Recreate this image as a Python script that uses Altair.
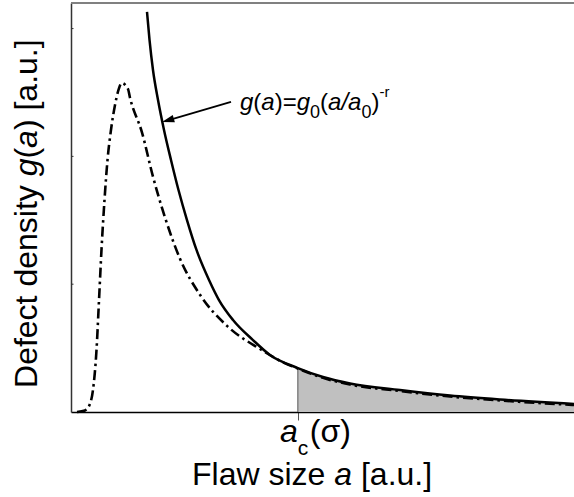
import math
import altair as alt
import pandas as pd

# ---------------- data (arbitrary units) ----------------
# power-law curve g(a) = g0 (a/a0)^-r  (solid)
solid_x = [1.511, 1.561, 1.630, 1.730, 1.849, 1.988, 2.137, 2.306, 2.495, 2.744,
           2.942, 3.221, 3.618, 3.956, 4.51, 5.010, 5.547, 6.541, 7.535, 8.529, 10.0]
solid_y = [3.130, 2.911, 2.676, 2.441, 2.207, 1.972, 1.737, 1.502, 1.268, 1.033,
           0.876, 0.720, 0.563, 0.446, 0.344, 0.274, 0.223, 0.172, 0.129, 0.098, 0.063]

# measured defect density (dash-dot)
dd_x = [0.119, 0.278, 0.368, 0.437, 0.507, 0.557, 0.606, 0.666, 0.726, 0.795,
        0.875, 0.944, 1.008, 1.133, 1.173, 1.412, 1.630, 1.869, 2.167, 2.565,
        3.101, 3.757, 4.215, 4.553, 5.010, 5.547, 6.541, 7.535, 8.529, 10.0]
dd_y = [0.000, 0.012, 0.055, 0.172, 0.485, 0.876, 1.268, 1.659, 1.972, 2.207,
        2.402, 2.520, 2.574, 2.527, 2.459, 2.186, 1.841, 1.522, 1.199, 0.917,
        0.674, 0.493, 0.389, 0.333, 0.267, 0.215, 0.164, 0.121, 0.090, 0.055]

AC = 4.51          # critical flaw size a_c(sigma)
G_AC = 0.344       # g(a_c)
Y_TICKS = [1, 2, 3]

# ---------------- layout constants ----------------
W, H = 503, 409
X_DOM = [0, 10]
Y_DOM = [0, 3.2]
PXX = W / (X_DOM[1] - X_DOM[0])
PXY = H / (Y_DOM[1] - Y_DOM[0])
FONT = "Liberation Sans"

ADV = {"F": 611, "l": 222, "a": 556, "w": 722, " ": 278, "s": 500, "i": 222,
       "z": 500, "e": 556, "[": 278, ".": 278, "u": 556, "]": 278, "D": 722,
       "f": 278, "c": 500, "t": 278, "n": 556, "d": 556, "y": 500, "g": 556,
       "(": 333, ")": 333, "=": 584, "/": 278, "0": 556, "-": 333, "r": 333,
       "σ": 617}


def adv(s, size):
    return sum(ADV[c] for c in s) * size / 1000.0


xs = alt.Scale(domain=X_DOM, nice=False, zero=False)
ys = alt.Scale(domain=Y_DOM, nice=False, zero=False)
xaxis = alt.Axis(values=[AC], labels=False, title=None, grid=False, tickSize=8,
                 tickColor="#555555", tickWidth=1, domainColor="#000000",
                 domainWidth=1.5)
yaxis = alt.Axis(values=[0], ticks=False, labels=False, title=None, grid=False,
                 domainColor="#333333", domainWidth=1.5)


def X(f="x"):
    return alt.X(f + ":Q", scale=xs, axis=xaxis)


def Y(f="y"):
    return alt.Y(f + ":Q", scale=ys, axis=yaxis)


solid_df = pd.DataFrame({"x": solid_x, "y": solid_y})
dd_df = pd.DataFrame({"x": dd_x, "y": dd_y})
fill_df = solid_df[solid_df["x"] >= AC]

layers = []

# shaded tail beyond a_c
layers.append(alt.Chart(fill_df).mark_area(color="#c0c0c0", opacity=1,
                                           interpolate="monotone")
              .encode(x=X(), y=Y()))

# vertical marker at a_c
layers.append(alt.Chart(pd.DataFrame({"x": [AC], "y": [0], "y2": [G_AC]}))
              .mark_rule(color="#555555", strokeWidth=1)
              .encode(x=X(), y=Y(), y2="y2:Q"))

# top frame line
layers.append(alt.Chart(pd.DataFrame({"x": [X_DOM[0]], "x2": [X_DOM[1]], "y": [Y_DOM[1]]}))
              .mark_rule(color="#808080", strokeWidth=2)
              .encode(x=X(), x2="x2:Q", y=Y()))

# inward y ticks
TICK_LEN = 2.5 / PXX
layers.append(alt.Chart(pd.DataFrame({"x": [0.0] * len(Y_TICKS),
                                      "x2": [TICK_LEN] * len(Y_TICKS),
                                      "y": Y_TICKS}))
              .mark_rule(color="#333333", strokeWidth=1)
              .encode(x=X(), x2="x2:Q", y=Y()))

# solid power-law curve
layers.append(alt.Chart(solid_df).mark_line(color="black", strokeWidth=2.5,
                                            interpolate="monotone")
              .encode(x=X(), y=Y()))

# dash-dot measured curve
layers.append(alt.Chart(dd_df).mark_line(color="black", strokeWidth=2.6,
                                         strokeDash=[10, 4, 2.5, 4],
                                         interpolate="monotone")
              .encode(x=X(), y=Y()))

# arrow
TAIL = (3.181, 2.426)
TIP = (1.810, 2.269)
dxp = (TIP[0] - TAIL[0]) * PXX
dyp = -(TIP[1] - TAIL[1]) * PXY
nrm = math.hypot(dxp, dyp)
ux, uy = dxp / nrm, dyp / nrm
HEAD_SIZE = 150
half = math.sqrt(HEAD_SIZE) / 2
head_x = TIP[0] - half * ux / PXX
head_y = TIP[1] + half * uy / PXY
head_angle = math.degrees(math.atan2(ux, -uy)) % 360

layers.append(alt.Chart(pd.DataFrame({"x": [TAIL[0]], "y": [TAIL[1]],
                                      "x2": [head_x], "y2": [head_y]}))
              .mark_rule(color="black", strokeWidth=1.8)
              .encode(x=X(), y=Y(), x2="x2:Q", y2="y2:Q"))
layers.append(alt.Chart(pd.DataFrame({"x": [head_x], "y": [head_y]}))
              .mark_point(shape="M0,-1L0.62,1L-0.62,1Z", filled=True,
                          size=HEAD_SIZE, angle=head_angle, color="black",
                          opacity=1, strokeWidth=0)
              .encode(x=X(), y=Y()))


# ---------------- texts ----------------
def text_run(x0, y0, pieces, start=0.0, angle=None):
    out = []
    off = start
    for txt, size, style, shift in pieces:
        lead = len(txt) - len(txt.lstrip(" "))
        shown = txt.strip(" ")
        kw = dict(font=FONT, fontSize=size, fontStyle=style, align="left",
                  baseline="alphabetic", dx=off + adv(" " * lead, size), dy=shift,
                  color="black")
        if angle is not None:
            kw["angle"] = angle
        out.append(alt.Chart(pd.DataFrame({"x": [x0], "y": [y0], "t": [shown]}))
                   .mark_text(**kw).encode(x=X(), y=Y(), text="t:N"))
        off += adv(txt, size)
    return out


# formula annotation
FORM_POS = (3.360, 2.363)
layers += text_run(*FORM_POS, [
    ("g", 24, "italic", 0), ("(", 24, "normal", 0), ("a", 24, "italic", 0),
    (")=", 24, "normal", 0), ("g", 24, "italic", 0), ("0", 18, "normal", 8),
    ("(", 24, "normal", 0), ("a/a", 24, "italic", 0), ("0", 18, "normal", 8),
    (")", 24, "normal", 0), ("-r", 15, "normal", -13)])

# a_c(sigma) tick label
AC_LABEL_Y = -0.235
layers += text_run(AC, AC_LABEL_Y, [("a", 32, "italic", 0), ("c", 21, "normal", 13)],
                   start=-adv("a", 32))
layers += text_run(AC, AC_LABEL_Y, [("(σ)", 32, "normal", 0)],
                   start=adv("c", 21) + 1.5)

# x title
XT_POS = (2.406, -0.571)
layers += text_run(*XT_POS, [
    ("Flaw size ", 32, "normal", 0), ("a", 32, "italic", 0),
    (" [a.u.]", 32, "normal", 0)])

# y title
YT_POS = (-0.676, 0.188)
layers += text_run(*YT_POS, [
    ("Defect density ", 32, "normal", 0), ("g", 32, "italic", 0),
    ("(", 32, "normal", 0), ("a", 32, "italic", 0),
    (") [a.u.]", 32, "normal", 0)], angle=270)

chart = (alt.layer(*layers)
         .properties(width=W, height=H,
                     padding={"left": 71, "top": 3, "right": 0, "bottom": 85},
                     autosize=alt.AutoSizeParams(type="none"),
                     background="white")
         .configure_view(stroke=None))

chart.save("out.html", embed_options={"renderer": "svg", "actions": False})
